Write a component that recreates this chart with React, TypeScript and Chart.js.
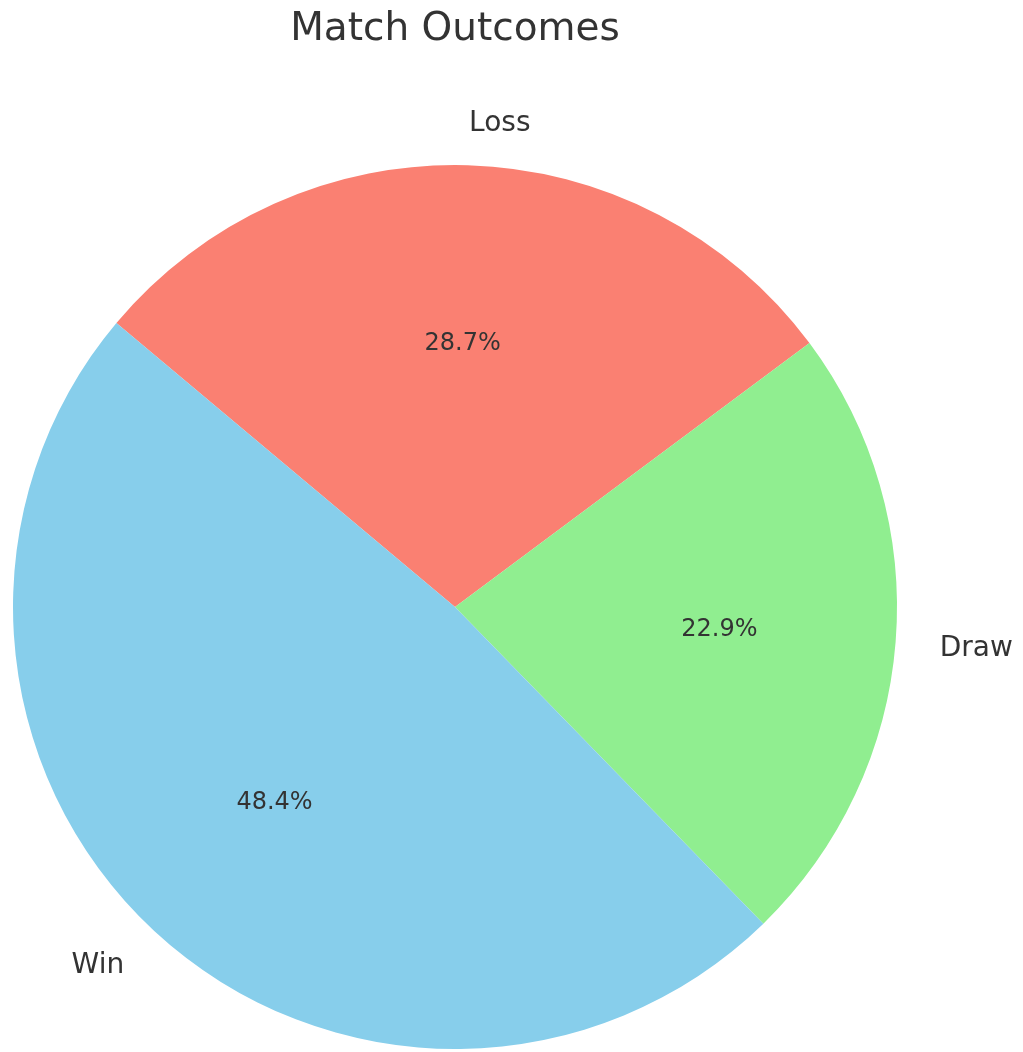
import React, { useEffect, useRef } from "react";
import { Chart, registerables } from "chart.js";

Chart.register(...registerables);

const TITLE = "Match Outcomes";
// Clockwise order as drawn by Chart.js
const categories = ["Loss", "Draw", "Win"];
const values = [28.7, 22.9, 48.4];
const colors = ["#FA8072", "#90EE90", "#87CEEB"];

const FONT = "'DejaVu Sans', 'Liberation Sans', sans-serif";
const TEXT_COLOR = "#333333";

const labelPlugin = {
  id: "pieLabels",
  afterDraw(chart: any) {
    const ctx = chart.ctx;
    const meta = chart.getDatasetMeta(0);
    const total = values.reduce((a, b) => a + b, 0);
    ctx.save();
    ctx.fillStyle = TEXT_COLOR;
    ctx.textBaseline = "alphabetic";
    // title
    ctx.font = `39px ${FONT}`;
    ctx.textAlign = "center";
    ctx.fillText(TITLE, meta.data[0].x, 40);
    meta.data.forEach((arc: any, i: number) => {
      const mid = (arc.startAngle + arc.endAngle) / 2;
      const r = arc.outerRadius;
      const cx = arc.x;
      const cy = arc.y;
      // category label at 1.1 r
      const lx = cx + Math.cos(mid) * r * 1.1;
      const ly = cy + Math.sin(mid) * r * 1.1;
      ctx.font = `28px ${FONT}`;
      ctx.textAlign = lx >= cx ? "left" : "right";
      ctx.fillText(categories[i], lx, ly + 0.729 * 28 / 2);
      // percentage at 0.6 r
      const px = cx + Math.cos(mid) * r * 0.6;
      const py = cy + Math.sin(mid) * r * 0.6;
      ctx.font = `24px ${FONT}`;
      ctx.textAlign = "center";
      const pct = ((values[i] / total) * 100).toFixed(1) + "%";
      ctx.fillText(pct, px, py + 0.729 * 24 / 2 - 1);
    });
    ctx.restore();
  },
};

export default function App() {
  const ref = useRef<HTMLCanvasElement | null>(null);
  useEffect(() => {
    if (!ref.current) return;
    const chart = new Chart(ref.current, {
      type: "pie",
      data: {
        labels: categories,
        datasets: [
          {
            data: values,
            backgroundColor: colors,
            borderWidth: 0,
          },
        ],
      },
      options: {
        animation: false,
        responsive: false,
        devicePixelRatio: 1,
        rotation: -50,
        radius: 442,
        layout: { padding: { left: 0, right: 113, top: 162, bottom: 0 } },
        plugins: {
          legend: { display: false },
          tooltip: { enabled: false },
          title: { display: false },
        },
        events: [],
      },
      plugins: [labelPlugin],
    });
    return () => chart.destroy();
  }, []);
  return (
    <div style={{ position: "absolute", left: 0, top: 0, width: 1023, height: 1052, background: "#ffffff" }}>
      <canvas ref={ref} width={1023} height={1052} style={{ width: 1023, height: 1052, display: "block" }} />
    </div>
  );
}
